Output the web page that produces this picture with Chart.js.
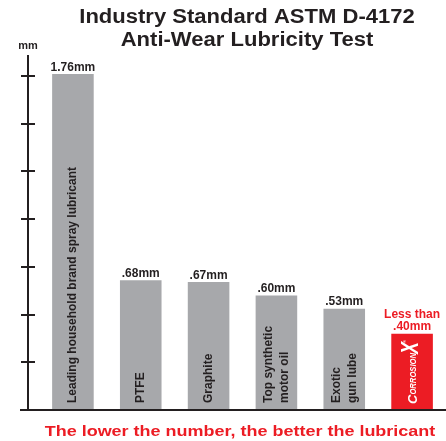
<!DOCTYPE html>
<html>
<head>
<meta charset="utf-8">
<script src="https://cdn.jsdelivr.net/npm/chart.js@4"></script>
<style>
  html, body { margin: 0; padding: 0; background: #ffffff; }
  canvas { display: block; }
</style>
</head>
<body>
<canvas id="c" width="446" height="441"></canvas>
<script>
const titleLines = ["Industry Standard ASTM D-4172", "Anti-Wear Lubricity Test"];
const footnote = "The lower the number, the better the lubricant";
const unitLabel = "mm";
const categories = [
  ["Leading household brand spray lubricant"],
  ["PTFE"],
  ["Graphite"],
  ["Top synthetic", "motor oil"],
  ["Exotic", "gun lube"],
  ["CorrosionX"]
];
const values = [1.76, 0.68, 0.67, 0.60, 0.53, 0.40];
const valueLabels = [["1.76mm"], [".68mm"], [".67mm"], [".60mm"], [".53mm"], ["Less than", ".40mm"]];
const tickValues = [0.25, 0.5, 0.75, 1.0, 1.25, 1.5, 1.75];

const GRAY = "#a7a8ab";
const RED = "#ec1c24";
const INK = "#231f20";
const FONT = "'Liberation Sans', Arial, Helvetica, sans-serif";

function stretchedText(ctx, text, x, y, font, color, sx, align) {
  ctx.save();
  ctx.font = font;
  ctx.fillStyle = color;
  ctx.textAlign = align || "center";
  ctx.textBaseline = "alphabetic";
  ctx.translate(x, y);
  ctx.scale(sx, 1);
  ctx.fillText(text, 0, 0);
  ctx.restore();
}

const decor = {
  id: "decor",
  afterDatasetsDraw(chart) {
    const ctx = chart.ctx;
    const y = chart.scales.y;
    const meta = chart.getDatasetMeta(0);
    const axisX = 28;
    const base = y.getPixelForValue(0);

    // Title
    stretchedText(ctx, titleLines[0], 247, 23, "bold 19.5px " + FONT, INK, 1.13);
    stretchedText(ctx, titleLines[1], 247, 46, "bold 19.5px " + FONT, INK, 1.13);
    // unit
    stretchedText(ctx, unitLabel, axisX, 49, "bold 10px " + FONT, INK, 1.1);

    // axis
    ctx.save();
    ctx.strokeStyle = INK;
    ctx.lineWidth = 2;
    ctx.beginPath();
    ctx.moveTo(axisX, y.getPixelForValue(y.max));
    ctx.lineTo(axisX, base);
    ctx.moveTo(20, base);
    ctx.lineTo(chart.width, base);
    tickValues.forEach(v => {
      const py = Math.round(y.getPixelForValue(v));
      ctx.moveTo(21, py);
      ctx.lineTo(35, py);
    });
    ctx.stroke();
    ctx.restore();

    // value labels & category labels
    meta.data.forEach((bar, i) => {
      const isRed = i === values.length - 1;
      const lines = valueLabels[i];
      const color = isRed ? RED : INK;
      for (let k = 0; k < lines.length; k++) {
        const ly = bar.y - 3.5 - (lines.length - 1 - k) * 12;
        stretchedText(ctx, lines[k], bar.x, ly, "bold 12px " + FONT, color, 1.0);
      }

      ctx.save();
      ctx.translate(bar.x, base - 7);
      ctx.rotate(-Math.PI / 2);
      ctx.textBaseline = "middle";
      ctx.textAlign = "left";
      if (!isRed) {
        ctx.fillStyle = INK;
        ctx.font = "bold 12px " + FONT;
        const cl = categories[i];
        cl.forEach((t, k) => {
          const off = cl.length === 1 ? 0 : (k === 0 ? -8 : 8);
          ctx.fillText(t, 0, off);
        });
      } else {
        // CorrosionX logo-style text
        ctx.fillStyle = "#ffffff";
        ctx.translate(-1, 0);
        let x = 0;
        const name = categories[i][0];
        const first = name[0].toUpperCase();
        const mid = name.slice(1, -1).toUpperCase();
        const last = name.slice(-1).toUpperCase();
        ctx.font = "italic bold 13px " + FONT;
        ctx.fillText(first, x, 1); x += ctx.measureText(first).width;
        ctx.save();
        ctx.translate(x, 0);
        ctx.scale(0.9, 1);
        ctx.font = "italic bold 8.5px " + FONT;
        ctx.fillText(mid, 0, 2);
        x += ctx.measureText(mid).width * 0.9;
        ctx.restore();
        ctx.save();
        ctx.translate(x - 1, 0);
        ctx.scale(0.75, 1);
        ctx.font = "italic bold 24px " + FONT;
        ctx.fillText(last, 0, -1);
        x += ctx.measureText(last).width * 0.75;
        ctx.restore();
        ctx.font = "4px " + FONT;
        ctx.fillText("®", x - 2, -7);
      }
      ctx.restore();
    });

    // footnote
    stretchedText(ctx, footnote, 240, 436, "bold 15.5px " + FONT, RED, 1.16);
  }
};

new Chart(document.getElementById("c"), {
  type: "bar",
  data: {
    labels: categories,
    datasets: [{
      data: values,
      backgroundColor: values.map((v, i) => i === values.length - 1 ? RED : GRAY),
      borderWidth: 0,
      barPercentage: 0.613,
      categoryPercentage: 1.0
    }]
  },
  options: {
    responsive: false,
    devicePixelRatio: 1,
    animation: false,
    layout: { padding: { left: 39, right: -4, top: 55, bottom: 31 } },
    plugins: { legend: { display: false }, title: { display: false }, tooltip: { enabled: false } },
    scales: {
      x: { display: false, offset: true },
      y: { display: false, min: 0, max: 1.86 }
    }
  },
  plugins: [decor]
});
</script>
</body>
</html>
